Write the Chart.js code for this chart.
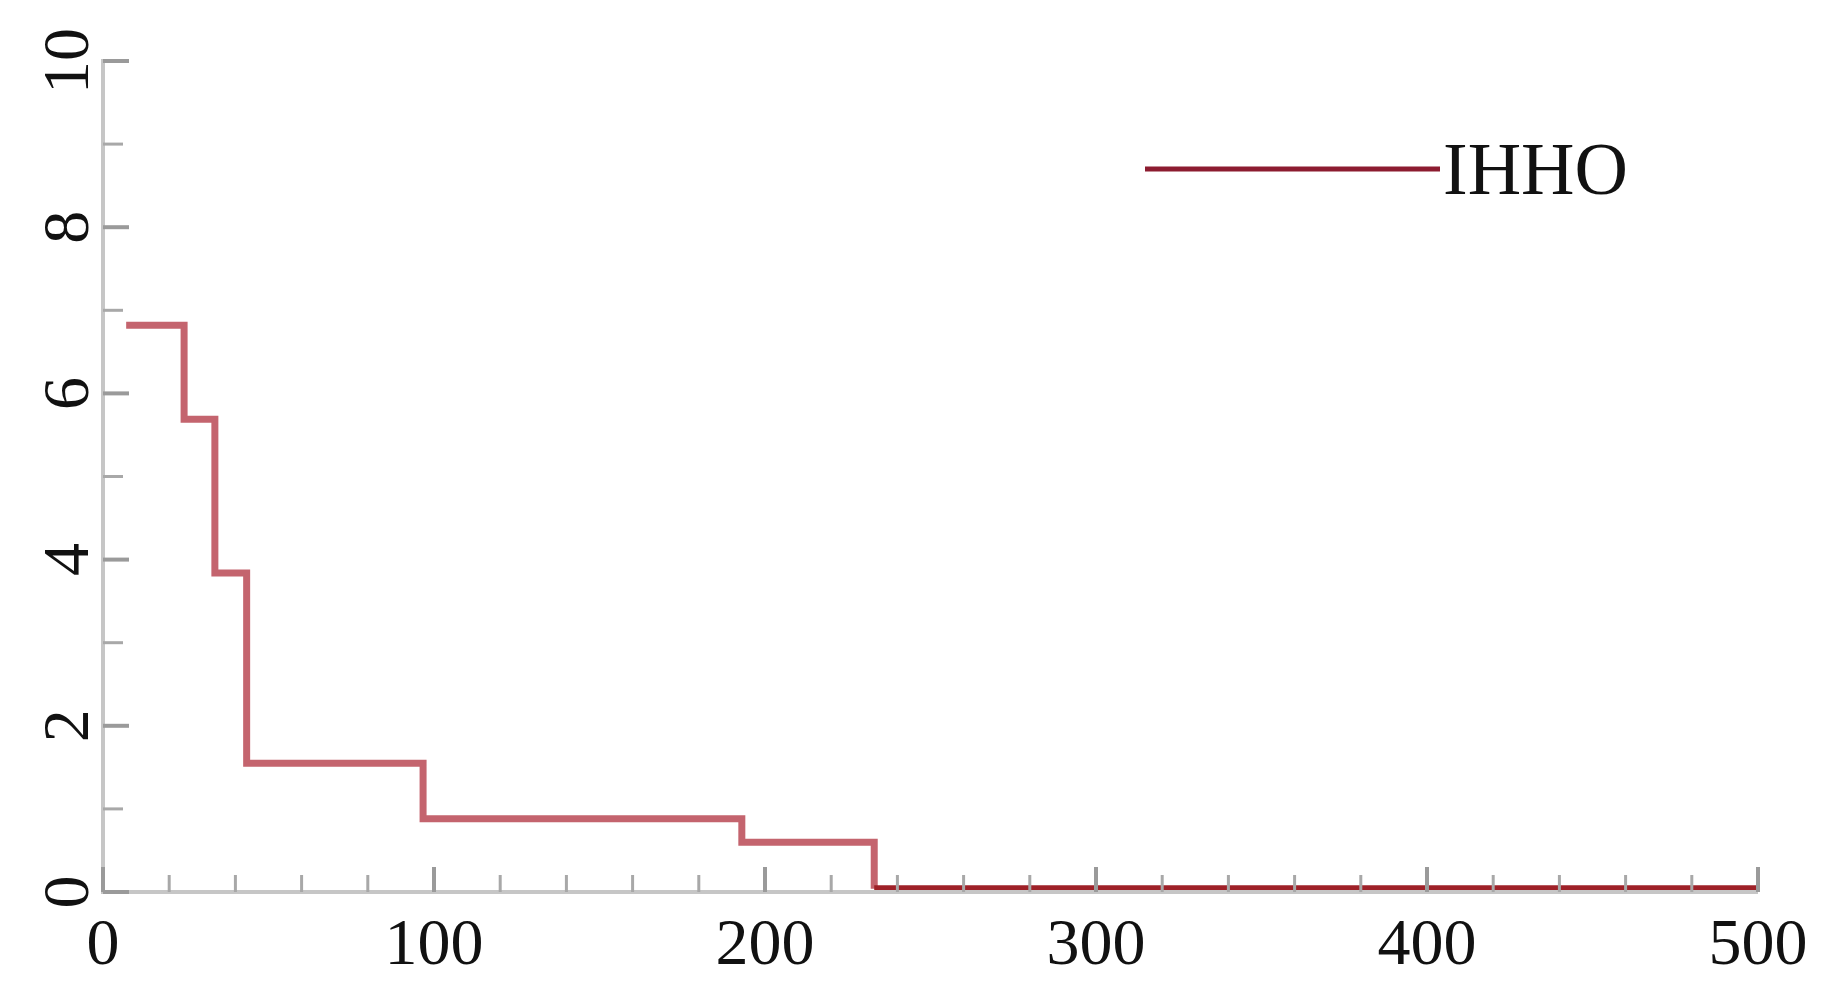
<!DOCTYPE html>
<html>
<head>
<meta charset="utf-8">
<script src="https://cdn.jsdelivr.net/npm/chart.js@4"></script>
<style>
  html, body { margin: 0; padding: 0; background: #ffffff; }
  #wrap { width: 1832px; height: 996px; position: relative; }
</style>
</head>
<body>
<div id="wrap"><canvas id="c" width="1832" height="996"></canvas></div>
<script>
// ---- data ----
const seriesLabel = "IHHO";
const iterations = [7, 24.5, 33.8, 43.4, 96.7, 193, 233, 500];
const fitness    = [6.82, 5.69, 3.84, 1.55, 0.88, 0.60, 0.04, 0.04];
const xTickValues = [0, 100, 200, 300, 400, 500];
const xMinorTickValues = [20, 40, 60, 80, 120, 140, 160, 180, 220, 240, 260, 280, 320, 340, 360, 380, 420, 440, 460, 480];
const yTickValues = [0, 2, 4, 6, 8, 10];
const yMinorTickValues = [1, 3, 5, 7, 9];

const points = iterations.map((x, i) => ({ x: x, y: fitness[i] }));

const FONT = '"Liberation Serif", "Times New Roman", serif';

const axesPlugin = {
  id: 'axesPlugin',
  afterDatasetsDraw(chart) {
    const ctx = chart.ctx;
    const xs = chart.scales.x, ys = chart.scales.y;
    const x0 = xs.getPixelForValue(0), x1 = xs.getPixelForValue(500);
    const y0 = ys.getPixelForValue(0), y1 = ys.getPixelForValue(10);
    ctx.save();
    // axis lines
    ctx.strokeStyle = '#c6c6c6';
    ctx.lineWidth = 4;
    ctx.beginPath();
    ctx.moveTo(x0, y1 - 2); ctx.lineTo(x0, y0);
    ctx.lineTo(x1, y0);
    ctx.stroke();
    // major ticks (inward)
    ctx.strokeStyle = '#9a9a9a';
    ctx.lineWidth = 4;
    yTickValues.forEach(v => {
      const y = ys.getPixelForValue(v);
      ctx.beginPath(); ctx.moveTo(x0, y); ctx.lineTo(x0 + 26, y); ctx.stroke();
    });
    xTickValues.forEach(v => {
      const x = xs.getPixelForValue(v);
      ctx.beginPath(); ctx.moveTo(x, y0); ctx.lineTo(x, y0 - 25); ctx.stroke();
    });
    // minor ticks
    ctx.strokeStyle = '#a8a8a8';
    ctx.lineWidth = 3;
    yMinorTickValues.forEach(v => {
      const y = ys.getPixelForValue(v);
      ctx.beginPath(); ctx.moveTo(x0, y); ctx.lineTo(x0 + 20, y); ctx.stroke();
    });
    xMinorTickValues.forEach(v => {
      const x = xs.getPixelForValue(v);
      ctx.beginPath(); ctx.moveTo(x, y0); ctx.lineTo(x, y0 - 17); ctx.stroke();
    });
    // redraw the final (near-zero) segment over the axis
    ctx.restore();
    ctx.save();
    // x tick labels
    ctx.fillStyle = '#111111';
    ctx.font = '66px ' + FONT;
    ctx.textAlign = 'center';
    ctx.textBaseline = 'alphabetic';
    xTickValues.forEach(v => {
      const x = xs.getPixelForValue(v);
      ctx.fillText(String(v), x, y0 + 72);
    });
    // y tick labels, rotated
    yTickValues.forEach(v => {
      const y = ys.getPixelForValue(v);
      ctx.save();
      ctx.translate(88, y);
      ctx.rotate(-Math.PI / 2);
      ctx.fillText(String(v), 0, 0);
      ctx.restore();
    });
    // legend
    const ds = chart.data.datasets[0];
    ctx.strokeStyle = '#8c1c30';
    ctx.lineWidth = 5;
    ctx.beginPath(); ctx.moveTo(1145, 169); ctx.lineTo(1440, 169); ctx.stroke();
    ctx.fillStyle = '#111111';
    ctx.font = '74px ' + FONT;
    ctx.textAlign = 'left';
    ctx.fillText(ds.label, 1443, 194);
    ctx.restore();
  }
};

new Chart(document.getElementById('c'), {
  type: 'line',
  data: {
    datasets: [{
      label: seriesLabel,
      data: points,
      stepped: 'before',
      borderColor: '#c4646e',
      borderWidth: 7,
      pointRadius: 0,
      fill: false,
      clip: false,
      segment: {
        borderColor: c => (c.p0.parsed.y < 0.2 ? '#9e2128' : '#c4646e')
      }
    }]
  },
  options: {
    responsive: false,
    animation: false,
    devicePixelRatio: 1,
    layout: { padding: { left: 103, right: 74, top: 61, bottom: 104 } },
    plugins: { legend: { display: false }, tooltip: { enabled: false } },
    scales: {
      x: { type: 'linear', min: 0, max: 500, display: false },
      y: { type: 'linear', min: 0, max: 10, display: false }
    }
  },
  plugins: [axesPlugin]
});
</script>
</body>
</html>
